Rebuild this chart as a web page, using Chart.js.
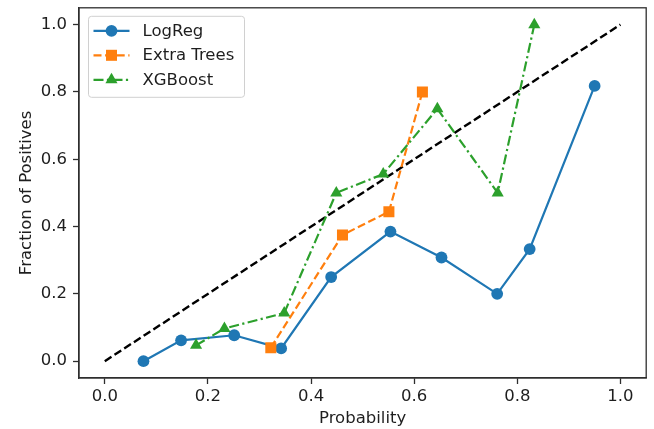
<!DOCTYPE html>
<html>
<head>
<meta charset="utf-8">
<script src="https://cdn.jsdelivr.net/npm/chart.js@4/dist/chart.umd.min.js"></script>
<style>
  html, body { margin: 0; padding: 0; background: #ffffff; }
  #wrap { width: 654px; height: 429px; position: relative; }
</style>
</head>
<body>
<div id="wrap"><canvas id="c" width="654" height="429"></canvas></div>
<script>
// ---- data ----
const tickValues = [0.0, 0.2, 0.4, 0.6, 0.8, 1.0];
const diagX = [0, 1];
const diagY = [0, 1];
const logregX = [0.075, 0.148, 0.251, 0.342, 0.439, 0.554, 0.653, 0.761, 0.824, 0.950];
const logregY = [0.0, 0.062, 0.077, 0.038, 0.25, 0.385, 0.308, 0.2, 0.333, 0.818];
const extraX = [0.322, 0.461, 0.551, 0.616];
const extraY = [0.04, 0.375, 0.444, 0.8];
const xgbX = [0.177, 0.232, 0.348, 0.449, 0.540, 0.645, 0.762, 0.833];
const xgbY = [0.047, 0.097, 0.143, 0.5, 0.556, 0.75, 0.5, 1.0];
const seriesNames = ['LogReg', 'Extra Trees', 'XGBoost'];
const xTitle = 'Probability';
const yTitle = 'Fraction of Positives';

const pts = (xs, ys) => xs.map((x, i) => ({ x: x, y: ys[i] }));

const FONT = '"DejaVu Sans", sans-serif';
const FSIZE = 16.5;
const TEXT = '#1e1e1e';
const AXIS = '#2e2e2e';

function drawMarker(ctx, style, x, y, r, color) {
  ctx.save();
  ctx.fillStyle = color;
  ctx.setLineDash([]);
  ctx.beginPath();
  if (style === 'circle') {
    ctx.arc(x, y, r, 0, Math.PI * 2);
  } else if (style === 'rect') {
    const s = r * Math.SQRT1_2;
    ctx.rect(x - s, y - s, 2 * s, 2 * s);
  } else if (style === 'triangle') {
    let a = 0;
    ctx.moveTo(x + Math.sin(a) * r, y - Math.cos(a) * r);
    a += 2 * Math.PI / 3;
    ctx.lineTo(x + Math.sin(a) * r, y - Math.cos(a) * r);
    a += 2 * Math.PI / 3;
    ctx.lineTo(x + Math.sin(a) * r, y - Math.cos(a) * r);
    ctx.closePath();
  }
  ctx.fill();
  ctx.restore();
}

const frame = {
  id: 'frame',
  afterDraw(chart) {
    const { ctx, chartArea: a } = chart;
    ctx.save();
    ctx.strokeStyle = AXIS;
    ctx.lineWidth = 1.3;
    ctx.setLineDash([]);
    ctx.strokeRect(a.left, a.top, a.right - a.left, a.bottom - a.top);
    ctx.restore();
  }
};

const insideLegend = {
  id: 'insideLegend',
  afterDraw(chart) {
    const ctx = chart.ctx;
    const a = chart.chartArea;
    const items = chart.data.datasets.filter(d => d.label);
    const x0 = a.left + 9.5, y0 = a.top + 8.5;
    const w = 156, h = 81, rowH = 24.5, rad = 3;
    ctx.save();
    ctx.beginPath();
    ctx.moveTo(x0 + rad, y0);
    ctx.lineTo(x0 + w - rad, y0);
    ctx.arcTo(x0 + w, y0, x0 + w, y0 + rad, rad);
    ctx.lineTo(x0 + w, y0 + h - rad);
    ctx.arcTo(x0 + w, y0 + h, x0 + w - rad, y0 + h, rad);
    ctx.lineTo(x0 + rad, y0 + h);
    ctx.arcTo(x0, y0 + h, x0, y0 + h - rad, rad);
    ctx.lineTo(x0, y0 + rad);
    ctx.arcTo(x0, y0, x0 + rad, y0, rad);
    ctx.closePath();
    ctx.fillStyle = 'rgba(255,255,255,0.85)';
    ctx.fill();
    ctx.strokeStyle = '#d0d0d0';
    ctx.lineWidth = 1;
    ctx.stroke();
    items.forEach((d, i) => {
      const cy = y0 + 14.5 + i * rowH;
      ctx.beginPath();
      ctx.strokeStyle = d.borderColor;
      ctx.lineWidth = d.borderWidth;
      ctx.setLineDash(d.borderDash || []);
      ctx.moveTo(x0 + 5, cy);
      ctx.lineTo(x0 + 41, cy);
      ctx.stroke();
      drawMarker(ctx, d.pointStyle, x0 + 23, cy, d.pointRadius, d.borderColor);
      ctx.setLineDash([]);
      ctx.fillStyle = TEXT;
      ctx.font = FSIZE + 'px ' + FONT;
      ctx.textAlign = 'left';
      ctx.textBaseline = 'middle';
      ctx.fillText(d.label, x0 + 54, cy + 0.5);
    });
    ctx.restore();
  }
};

const axisCommon = {
  type: 'linear',
  min: -0.05,
  max: 1.05,
  afterBuildTicks: (scale) => { scale.ticks = tickValues.map(v => ({ value: v })); },
  ticks: {
    color: TEXT,
    font: { family: FONT, size: FSIZE },
    autoSkip: false,
    maxRotation: 0,
    callback: (v) => Number(v).toFixed(1)
  },
  grid: {
    display: true,
    drawOnChartArea: false,
    drawTicks: true,
    tickLength: 6,
    tickWidth: 1.3,
    tickColor: AXIS,
    color: AXIS
  },
  border: { display: true, color: AXIS, width: 1.3 }
};

new Chart(document.getElementById('c'), {
  type: 'line',
  data: {
    datasets: [
      {
        data: pts(diagX, diagY),
        borderColor: '#000000',
        borderWidth: 2.4,
        borderDash: [8, 3.6],
        pointRadius: 0,
        order: 4
      },
      {
        label: seriesNames[0],
        data: pts(logregX, logregY),
        borderColor: '#1f77b4',
        backgroundColor: '#1f77b4',
        borderWidth: 2.2,
        pointStyle: 'circle',
        pointRadius: 5.9,
        pointBorderWidth: 0,
        order: 3
      },
      {
        label: seriesNames[1],
        data: pts(extraX, extraY),
        borderColor: '#ff7f0e',
        backgroundColor: '#ff7f0e',
        borderWidth: 2.2,
        borderDash: [8, 3.6],
        pointStyle: 'rect',
        pointRadius: 7.8,
        pointBorderWidth: 0,
        order: 2
      },
      {
        label: seriesNames[2],
        data: pts(xgbX, xgbY),
        borderColor: '#2ca02c',
        backgroundColor: '#2ca02c',
        borderWidth: 2.2,
        borderDash: [10, 3.4, 2.2, 3.4],
        pointStyle: 'triangle',
        pointRadius: 7,
        pointBorderWidth: 0,
        order: 1
      }
    ]
  },
  options: {
    responsive: false,
    animation: false,
    devicePixelRatio: 1,
    parsing: true,
    layout: { padding: { top: 7, right: 6, left: 0, bottom: 0 } },
    elements: { line: { tension: 0, fill: false } },
    plugins: {
      legend: { display: false },
      tooltip: { enabled: false }
    },
    scales: {
      x: Object.assign({}, axisCommon, {
        position: 'bottom',
        ticks: Object.assign({}, axisCommon.ticks, { padding: 2.5 }),
        title: {
          display: true,
          text: xTitle,
          color: TEXT,
          font: { family: FONT, size: FSIZE },
          padding: { top: 0, bottom: 0 }
        },
        afterFit: (s) => { s.height = 51; s.paddingLeft = 0; s.paddingRight = 0; }
      }),
      y: Object.assign({}, axisCommon, {
        position: 'left',
        ticks: Object.assign({}, axisCommon.ticks, { padding: 6 }),
        title: {
          display: true,
          text: yTitle,
          color: TEXT,
          font: { family: FONT, size: FSIZE },
          padding: { top: 17, bottom: 0 }
        },
        afterFit: (s) => { s.width = 79; s.paddingTop = 0; s.paddingBottom = 0; }
      })
    }
  },
  plugins: [frame, insideLegend]
});
</script>
</body>
</html>
